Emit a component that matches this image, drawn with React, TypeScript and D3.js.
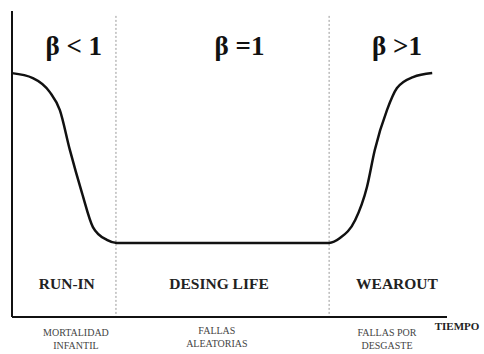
import React, { useRef, useEffect } from "react";
import * as d3 from "d3";

// bathtub curve (time 0-100, failure rate 0-100)
const time = [0, 4.8, 8.7, 11.0, 13.3, 16.1, 18.6, 21.8, 24.1, 50, 72.9, 75.4, 78.9, 81.6, 83.4, 86.2, 88.5, 92.2, 96.6];
const rate = [79.7, 78.1, 73.5, 67.6, 54.6, 40.5, 29.4, 25.2, 24.2, 24.2, 24.2, 25.8, 31.7, 42.5, 54.6, 67.6, 74.8, 78.4, 79.7];

const boundaries = [23.9, 72.9];
const betaLabels = ["β < 1", "β =1", "β >1"];
const phaseLabels = ["RUN-IN", "DESING LIFE", "WEAROUT"];
const causeLabels = [["MORTALIDAD", "INFANTIL"], ["FALLAS", "ALEATORIAS"], ["FALLAS POR", "DESGASTE"]];
const betaCenters = [14.2, 52.3, 88.5];
const phaseCenters = [12.6, 47.6, 88.5];
const causeCenters = [14.7, 47.1, 86.2];

const W = 484;
const H = 354;

const App = () => {
  const svgRef = useRef<SVGSVGElement>(null);

  useEffect(() => {
    const svg = d3.select(svgRef.current);
    svg.selectAll("*").remove();

    const x = d3.scaleLinear().domain([0, 100]).range([12, 447]);
    const y = d3.scaleLinear().domain([0, 100]).range([317, 11]);

    // dashed phase boundaries
    svg.selectAll(".bound")
      .data(boundaries)
      .enter()
      .append("line")
      .attr("x1", d => x(d))
      .attr("x2", d => x(d))
      .attr("y1", y(98.4))
      .attr("y2", y(0))
      .attr("stroke", "#999")
      .attr("stroke-width", 1)
      .attr("stroke-dasharray", "2,2");

    // axes
    svg.append("line")
      .attr("x1", x(0)).attr("x2", x(0))
      .attr("y1", y(100)).attr("y2", y(0))
      .attr("stroke", "#111").attr("stroke-width", 2);
    svg.append("line")
      .attr("x1", x(0)).attr("x2", x(100))
      .attr("y1", y(0)).attr("y2", y(0))
      .attr("stroke", "#111").attr("stroke-width", 2);

    // curve
    const pts = time.map((t, i) => [t, rate[i]] as [number, number]);
    const line = d3.line<[number, number]>()
      .x(d => x(d[0]))
      .y(d => y(d[1]))
      .curve(d3.curveMonotoneX);
    svg.append("path")
      .datum(pts)
      .attr("d", line)
      .attr("fill", "none")
      .attr("stroke", "#111")
      .attr("stroke-width", 2.5);

    const font = "'Liberation Serif', 'Times New Roman', serif";

    // beta labels
    svg.selectAll(".beta")
      .data(betaLabels)
      .enter()
      .append("text")
      .attr("x", (d, i) => x(betaCenters[i]))
      .attr("y", 55)
      .attr("text-anchor", "middle")
      .attr("font-family", font)
      .attr("font-weight", "bold")
      .attr("font-size", 27)
      .attr("fill", "#111")
      .text(d => d);

    // phase labels
    svg.selectAll(".phase")
      .data(phaseLabels)
      .enter()
      .append("text")
      .attr("x", (d, i) => x(phaseCenters[i]))
      .attr("y", 289)
      .attr("text-anchor", "middle")
      .attr("font-family", font)
      .attr("font-weight", "bold")
      .attr("font-size", 15.5)
      .attr("fill", "#222")
      .text(d => d);

    // cause labels under the axis
    causeLabels.forEach((lines, i) => {
      const t = svg.append("text")
        .attr("text-anchor", "middle")
        .attr("font-family", font)
        .attr("font-size", 10)
        .attr("fill", "#444");
      lines.forEach((s, j) => {
        t.append("tspan")
          .attr("x", x(causeCenters[i]))
          .attr("y", (i === 1 ? 334 : 336) + j * 13)
          .text(s);
      });
    });

    svg.append("text")
      .attr("x", 457)
      .attr("y", 330)
      .attr("text-anchor", "middle")
      .attr("font-family", font)
      .attr("font-weight", "bold")
      .attr("font-size", 11)
      .attr("fill", "#222")
      .text("TIEMPO");
  }, []);

  return (
    <svg ref={svgRef} width={W} height={H}
      style={{ position: "absolute", left: 0, top: 0, background: "#fff" }}></svg>
  );
};

export default App;
